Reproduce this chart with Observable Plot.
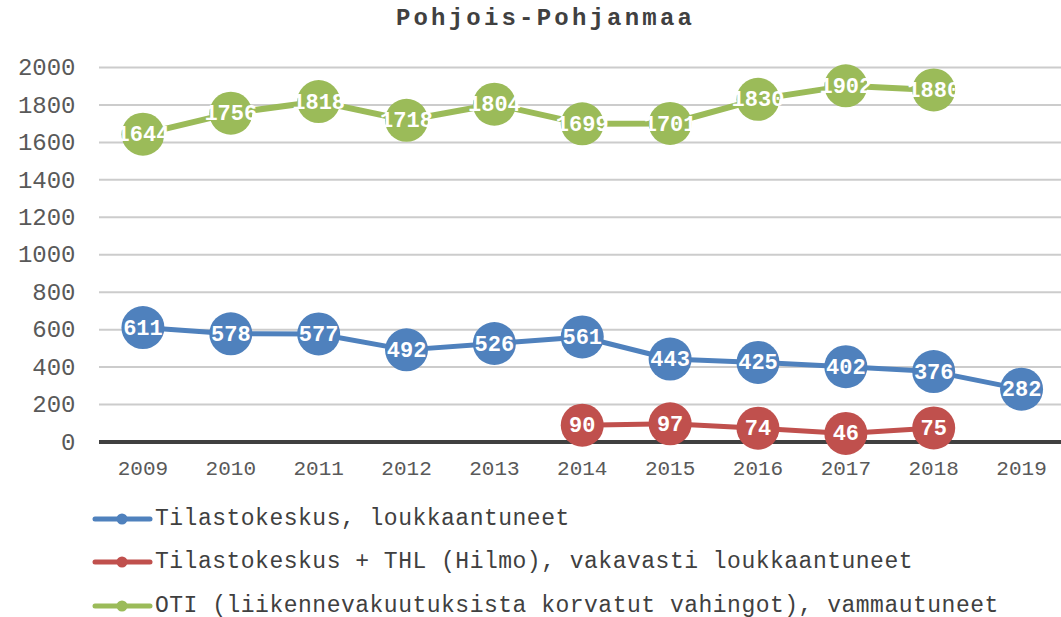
<!DOCTYPE html>
<html>
<head>
<meta charset="utf-8">
<script src="https://cdn.jsdelivr.net/npm/d3@7"></script>
<script src="https://cdn.jsdelivr.net/npm/@observablehq/plot@0.6"></script>
<style>
  html, body { margin: 0; padding: 0; background: #fff; }
  body { width: 1061px; height: 617px; position: relative; overflow: hidden; font-family: "Liberation Mono", "DejaVu Sans Mono", monospace; }
  #title { position: absolute; left: 30px; top: 0; width: 1031px; height: 40px; line-height: 38px; text-align: center; font-weight: bold; font-size: 24px; letter-spacing: 3.2px; color: #404040; }
  #chart { position: absolute; left: 0; top: 40px; }
  #legend { position: absolute; left: 0; top: 0; }
  .row { position: absolute; left: 0; height: 22px; width: 1061px; }
  .row svg { position: absolute; left: 92px; top: 0; }
  .row span { position: absolute; left: 155px; top: 0; line-height: 22px; font-size: 23px; letter-spacing: 0.5px; color: #404040; white-space: nowrap; }
</style>
</head>
<body>
<div id="title">Pohjois-Pohjanmaa</div>
<div id="chart"></div>
<div id="legend"></div>
<script>
const years = ["2009","2010","2011","2012","2013","2014","2015","2016","2017","2018","2019"];
const tilastokeskus = [611, 578, 577, 492, 526, 561, 443, 425, 402, 376, 282];
const thlHilmo = [null, null, null, null, null, 90, 97, 74, 46, 75, null];
const oti = [1644, 1756, 1818, 1718, 1804, 1699, 1701, 1830, 1902, 1880, null];
const seriesNames = [
  "Tilastokeskus, loukkaantuneet",
  "Tilastokeskus + THL (Hilmo), vakavasti loukkaantuneet",
  "OTI (liikennevakuutuksista korvatut vahingot), vammautuneet"
];
const seriesColors = ["#4F81BD", "#C0504D", "#9BBB59"];
const yTicks = [0, 200, 400, 600, 800, 1000, 1200, 1400, 1600, 1800, 2000];

const seriesValues = [tilastokeskus, thlHilmo, oti];
const data = [];
seriesValues.forEach((vals, si) => {
  vals.forEach((v, i) => {
    if (v != null) data.push({series: seriesNames[si], year: years[i], value: v, color: seriesColors[si]});
  });
});

const font = "Liberation Mono";
const marks = [
  Plot.ruleY(yTicks.filter(d => d > 0), {stroke: "#cccccc", strokeWidth: 2}),
  Plot.ruleY([0], {stroke: "#404040", strokeWidth: 4}),
  Plot.axisY({ticks: yTicks, tickSize: 0, tickPadding: 24, fontSize: 24, color: "#595959", label: null, tickFormat: d => String(d)}),
  Plot.axisX({tickSize: 0, tickPadding: 18, fontSize: 21, color: "#595959", label: null})
];
seriesNames.forEach((name, si) => {
  const d = data.filter(r => r.series === name);
  const w = si === 2 ? 6 : 5;
  marks.push(Plot.line(d, {x: "year", y: "value", stroke: seriesColors[si], strokeWidth: w}));
  marks.push(Plot.dot(d, {x: "year", y: "value", r: 21.5, fill: seriesColors[si], stroke: "none"}));
});
marks.push(Plot.text(data, {x: "year", y: "value", text: d => String(d.value), fill: "white", fontWeight: "bold", fontSize: 22, fontFamily: font}));

const chart = Plot.plot({
  width: 1061,
  height: 460,
  marginLeft: 99,
  marginRight: 0,
  marginTop: 27,
  marginBottom: 58,
  style: {fontFamily: font, background: "white", overflow: "visible"},
  x: {type: "point", domain: years, range: [98.5, 1065], padding: 0.5, align: 0.5, round: false},
  y: {domain: [0, 2000], range: [401.5, 27]},
  marks
});
document.getElementById("chart").appendChild(chart);

const legend = document.getElementById("legend");
const rowTops = [508, 551, 595];
seriesNames.forEach((name, si) => {
  const row = document.createElement("div");
  row.className = "row";
  row.style.top = rowTops[si] + "px";
  row.innerHTML = `<svg width="62" height="22"><line x1="3" y1="11" x2="58" y2="11" stroke="${seriesColors[si]}" stroke-width="5" stroke-linecap="round"/><circle cx="30" cy="11" r="5.5" fill="${seriesColors[si]}"/></svg><span>${name}</span>`;
  legend.appendChild(row);
});
</script>
</body>
</html>
